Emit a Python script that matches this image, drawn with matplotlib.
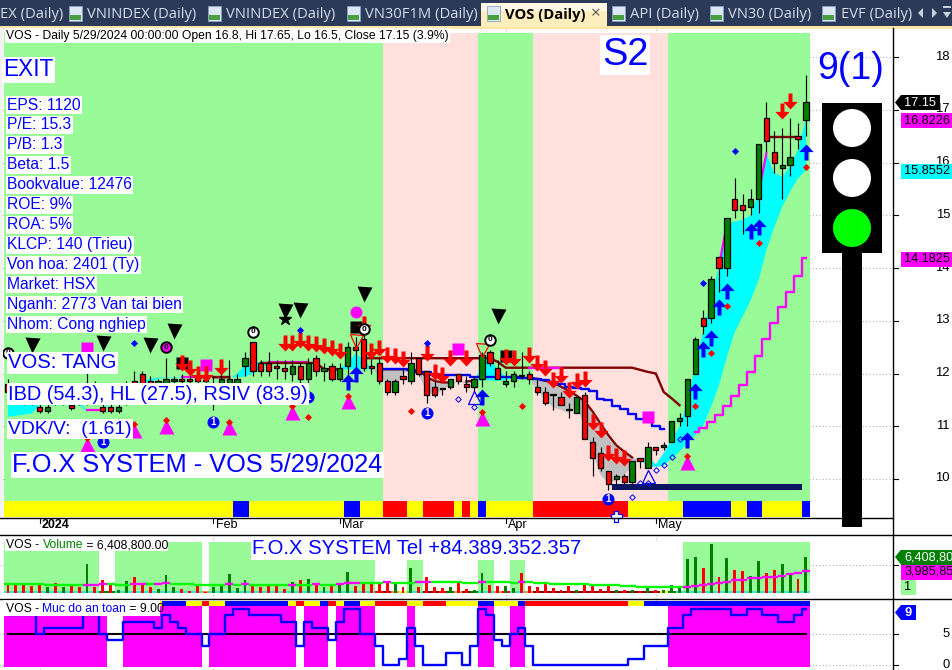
import matplotlib
matplotlib.use("Agg")
import matplotlib.pyplot as plt
import numpy as np
from matplotlib.patches import Rectangle, Circle, Polygon
from matplotlib.path import Path

plt.rcParams['font.family'] = ['Liberation Sans', 'DejaVu Sans']

# daily candles, one row per bar: open, high, low, close
ohlc = [
    (11.8, 11.9, 11.6, 11.65), (11.65, 11.75, 11.45, 11.5), (11.5, 11.6, 11.4, 11.45), (11.55, 11.65, 11.4, 11.45),
    (11.37, 11.5, 11.25, 11.29), (11.29, 11.5, 11.25, 11.37), (11.5, 11.6, 11.4, 11.45), (11.45, 11.6, 11.4, 11.55),
    (11.4, 11.6, 11.3, 11.35), (11.5, 11.6, 11.4, 11.45), (11.45, 12.05, 11.4, 11.75), (11.75, 11.85, 11.5, 11.55),
    (11.37, 11.55, 11.25, 11.29), (11.37, 11.5, 11.25, 11.29), (11.29, 11.5, 11.25, 11.37), (11.5, 11.85, 11.4, 11.7),
    (11.85, 12.05, 11.6, 11.7), (12.0, 12.05, 11.7, 11.8), (11.85, 11.95, 11.7, 11.75), (11.75, 11.9, 11.7, 11.85),
    (11.8, 12.3, 11.7, 11.9), (11.85, 11.95, 11.75, 11.9), (11.9, 12.0, 11.8, 11.85), (11.9, 12.0, 11.8, 11.85),
    (11.9, 11.95, 11.8, 11.85), (11.85, 11.95, 11.8, 11.85), (11.7, 11.95, 11.3, 11.8), (11.8, 12.0, 11.7, 11.9),
    (11.75, 12.25, 11.6, 11.9), (11.8, 12.0, 11.7, 11.9), (12.15, 12.4, 11.95, 12.3), (12.6, 12.6, 11.95, 12.05),
    (12.2, 12.25, 11.95, 12.05), (12.2, 12.4, 11.95, 12.05), (12.15, 12.25, 11.9, 12.1), (12.1, 12.25, 11.9, 12.05),
    (12.0, 12.25, 11.85, 12.15), (12.15, 12.2, 11.8, 11.9), (11.9, 12.3, 11.8, 12.2), (12.3, 12.35, 11.95, 12.05),
    (12.05, 12.2, 11.85, 12.1), (12.15, 12.2, 11.85, 11.9), (11.9, 12.2, 11.85, 12.1), (12.15, 12.6, 11.95, 12.5),
    (12.5, 12.7, 12.1, 12.45), (12.65, 12.8, 12.05, 12.1), (12.15, 12.3, 12.0, 12.1), (12.2, 12.3, 11.8, 11.85),
    (11.85, 11.9, 11.6, 11.65), (11.65, 11.9, 11.6, 11.85), (11.95, 12.1, 11.8, 11.9), (11.85, 12.4, 11.8, 12.2),
    (12.3, 12.3, 11.95, 12.0), (12.05, 12.05, 11.45, 11.6), (11.75, 11.85, 11.55, 11.6), (11.7, 11.7, 11.6, 11.7),
    (11.75, 11.9, 11.7, 11.9), (12.0, 12.0, 11.8, 11.85), (11.8, 11.95, 11.65, 11.75), (11.75, 11.95, 11.65, 11.9),
    (11.9, 12.4, 11.75, 12.35), (12.4, 12.45, 12.15, 12.2), (12.1, 12.25, 11.9, 11.9), (11.8, 12.05, 11.75, 11.85),
    (11.85, 12.05, 11.75, 12.0), (11.95, 12.4, 11.9, 11.95), (12.0, 12.05, 11.8, 11.9), (11.75, 11.9, 11.6, 11.65),
    (11.65, 11.75, 11.4, 11.45), (11.6, 11.6, 11.3, 11.6), (11.55, 11.65, 11.4, 11.4), (11.3, 11.45, 11.15, 11.3),
    (11.25, 11.55, 11.25, 11.55), (11.6, 11.65, 10.75, 10.75), (10.7, 10.8, 10.05, 10.4), (10.5, 10.6, 10.15, 10.2),
    (10.15, 10.15, 9.8, 9.9), (10.0, 10.1, 9.9, 10.05), (10.05, 10.1, 9.9, 9.95), (9.95, 10.35, 9.9, 10.35),
    (10.4, 10.4, 10.2, 10.35), (10.2, 10.7, 10.2, 10.6), (10.6, 10.6, 10.45, 10.55), (10.6, 10.7, 10.55, 10.65),
    (10.7, 11.1, 10.7, 11.1), (11.1, 11.25, 11.0, 11.15), (11.2, 11.9, 11.0, 11.9), (12.0, 12.7, 12.0, 12.65),
    (13.05, 13.2, 12.75, 12.9), (13.05, 13.85, 12.95, 13.8), (14.2, 14.2, 13.55, 14.0), (14.0, 14.95, 13.85, 14.95),
    (15.3, 15.7, 14.95, 15.1), (15.2, 15.4, 14.65, 15.1), (15.15, 15.5, 15.0, 15.3), (15.3, 16.35, 15.05, 16.35),
    (16.85, 17.15, 16.2, 16.4), (16.2, 16.6, 15.8, 16.0), (15.9, 16.65, 15.3, 15.95), (15.95, 16.85, 15.75, 16.1),
    (16.5, 16.75, 16.25, 16.45), (16.8, 17.65, 16.5, 17.15),
]

# fast and slow band of the cloud
fast_line = [11.5, 11.5, 11.5, 11.5, 11.45, 11.45, 11.45, 11.45, 11.45, 11.45, 11.31, 11.31, 11.31, 11.5, 11.6, 11.7,
             11.8, 11.85, 11.9, 11.92, 11.93, 11.93, 11.93, 11.93, 11.93, 11.93, 11.9, 11.9, 11.9, 12.0, 12.16, 12.2,
             12.22, 12.22, 12.22, 12.22, 12.22, 12.22, 12.22, 12.1, 12.05, 12.05, 12.1, 12.2, 12.38, 12.26, 12.1, 11.97,
             11.81, 11.72, 12.0, 12.07, 11.97, 11.66, 11.59, 11.69, 11.78, 11.85, 11.8, 11.83, 12.19, 12.29, 12.07,
             11.94, 11.94, 11.97, 11.89, 11.69, 11.5, 11.36, 11.31, 11.25, 11.37, 10.99, 10.49, 10.08, 9.92, 9.98,
             10.04, 10.3, 10.36, 10.42, 10.28, 10.49, 10.74, 10.99, 11.5, 12.1, 12.82, 13.39, 14.03, 14.85, 14.88,
             14.91, 15.0, 15.42, 16.17, 15.8, 15.73, 15.92, 16.24, 16.8226]
slow_line = [11.18, 11.2, 11.22, 11.24, 11.4, 11.4, 11.4, 11.4, 11.4, 11.4, 11.29, 11.29, 11.29, 11.45, 11.55, 11.65,
             11.75, 11.8, 11.85, 11.9, 11.92, 11.92, 11.92, 11.92, 11.92, 11.92, 11.93, 11.93, 11.93, 11.93, 11.94,
             12.0, 12.1, 12.2, 12.2, 12.2, 12.2, 12.2, 12.2, 12.08, 12.08, 12.08, 12.08, 12.08, 12.08, 12.08, 12.08,
             12.08, 12.08, 12.08, 12.08, 12.07, 12.07, 11.93, 11.86, 11.83, 11.83, 11.84, 11.85, 11.86, 11.87, 11.87,
             11.86, 11.88, 11.91, 11.93, 11.92, 11.9, 11.86, 11.83, 11.75, 11.67, 11.58, 11.47, 11.28, 11.05, 10.83,
             10.64, 10.52, 10.41, 10.36, 10.25, 10.23, 10.25, 10.39, 10.52, 10.68, 10.83, 11.02, 11.37, 11.78, 12.32,
             12.79, 13.08, 13.39, 13.77, 14.34, 14.78, 15.16, 15.45, 15.7, 15.8552]

# bars where the fast line is drawn in magenta, elsewhere it is only the cloud's edge
fast_runs = [(0, 1), (10, 12), (22, 25), (33, 38), (90, 91), (95, 96)]

# dark red stop line, (first bar, values)
stop_runs = [
    (26, [11.93, 11.93, 11.93]),
    (32, [12.2] * 8 + [12.08] * 3),
    (45, [12.29] * 17 + [12.22] + [12.11] * 16 + [12.11, 12.07, 12.03, 12.0, 11.65, 11.53, 11.4]),
    (96, [16.48] * 5),
]
stop_magenta_bars = [66, 67, 68, 69, 70]
stop_magenta_value = 12.11

blue_first_bar = 47
blue_line = [12.09, 12.09, 12.09, 12.09, 12.07, 12.02, 12.02, 11.97, 11.97, 11.97, 11.97, 11.97, 11.94, 11.94, 11.94,
             11.94, 11.94, 11.94, 11.91, 11.91, 11.89, 11.88, 11.84, 11.81, 11.75, 11.72, 11.7, 11.67, 11.51, 11.5,
             11.38, 11.32, 11.24, 11.14, 11.13, 11.0, 10.94]

magenta_first_bar = 87
magenta_line = [10.9, 10.97, 11.09, 11.21, 11.38, 11.57, 11.78, 12.03, 12.33, 12.65, 12.96, 13.27, 13.55, 13.85, 14.1825]

# regime per bar: G green, P pink
regime = "G" * 48 + "P" * 12 + "G" * 7 + "P" * 17 + "G" * 18
price_strip = ("Y" * 29 + "B" * 2 + "Y" * 12 + "B" * 2 + "Y" * 3 + "R" * 3 + "Y" * 2 + "R" * 4 + "YRYB" + "Y" * 6 + "R" * 12
               + "Y" * 7 + "B" * 6 + "YY" + "BB" + "Y" * 5 + "B")

# markers: bar index, price
red_arrow_bars = [22, 23, 24, 25, 27, 35, 36, 37, 38, 39, 40, 41, 42, 45, 46, 47, 48, 49, 50, 53, 54, 55, 56, 58, 63, 64,
                  66, 67, 68, 69, 70, 71, 72, 73, 74, 75, 76, 77, 78, 98, 99]
red_arrow_prices = [12.19, 12.11, 12.0, 12.0, 12.13, 12.57, 12.57, 12.63, 12.57, 12.56, 12.52, 12.48, 12.43, 12.93, 12.43,
                    12.48, 12.35, 12.33, 12.27, 12.38, 12.03, 11.97, 12.29, 12.29, 12.32, 12.29, 12.35, 12.19, 12.10,
                    11.88, 11.97, 11.69, 11.85, 11.89, 11.09, 10.93, 10.49, 10.44, 10.39, 16.98, 17.165]
blue_arrow_bars = [43, 44, 60, 86, 87, 88, 89, 90, 91, 94, 95, 101]
blue_arrow_prices = [11.84, 12.0, 11.55, 10.74, 11.67, 12.46, 12.67, 13.27, 13.57, 14.71, 14.77, 16.19]
red_dot_bars = [38, 51, 65, 87, 89, 91, 95, 101]
red_dot_prices = [11.18, 11.28, 11.38, 11.38, 12.38, 13.28, 14.48, 15.92]
blue_dot_bars = [16, 37, 53, 88, 92]
blue_dot_prices = [12.58, 12.82, 12.58, 13.72, 16.22]
open_diamond_bars = [57, 59, 79, 80, 81, 82, 83, 84, 85]
open_diamond_prices = [11.52, 11.36, 9.66, 9.92, 9.92, 10.17, 10.27, 10.42, 10.76]
pink_tri_bars = [10, 16, 20, 28, 36, 43, 60, 86]
pink_tri_prices = [10.66, 10.93, 11.0, 10.98, 11.27, 11.47, 11.16, 10.32]
open_tri_bars = [59, 81]
open_tri_prices = [11.56, 10.06]
open_down_bars = [44, 60]
open_down_prices = [12.62, 12.45]
black_tri_bars = [3, 12, 18, 21, 35, 37, 45, 62]
black_tri_prices = [12.54, 12.58, 12.54, 12.81, 13.18, 13.2, 13.51, 13.09]
zero_bars = [0, 31, 45, 61]
zero_prices = [12.39, 12.79, 12.84, 12.64]
pink_zero_bars = [20]
pink_zero_prices = [12.5]
one_bars = [12, 26, 38, 53, 76]
one_prices = [10.71, 11.09, 11.56, 11.26, 9.62]
black_sq_bars = [22, 44, 63]
black_sq_prices = [12.2, 12.88, 12.33]
pink_sq_bars = [10, 25, 57, 81]
pink_sq_prices = [12.48, 12.16, 12.46, 11.18]
support_bars = (77, 100)
support_price = 9.85

# volume in millions of shares
volume = [1.76, 1.47, 1.47, 1.3, 1.47, 1.18, 1.76, 1.18, 1.47, 1.06, 5.18, 1.06, 2.35, 1.47, 0.6, 2.1, 2.94, 1.47, 1.18,
          0.7, 3.2, 1.06, 0.7, 0.47, 1.47, 0.3, 1.06, 1.47, 3.4, 0.88, 2.35, 1.6, 1.18, 1.6, 1.65, 0.7, 1.94, 2.35, 2.47,
          1.65, 1.06, 1.6, 1.47, 3.7, 1.3, 1.88, 1.88, 1.76, 1.76, 1.88, 1.18, 4.4, 1.18, 2.94, 1.18, 0.88, 1.18, 1.76,
          0.7, 0.6, 3.5, 1.47, 1.3, 1.3, 0.88, 3.6, 1.3, 1.18, 1.65, 0.88, 0.6, 1.3, 0.6, 1.47, 1.65, 0.7, 1.65, 0.6,
          0.6, 0.6, 0.4, 0.88, 0.6, 0.6, 1.47, 1.0, 6.06, 6.4, 4.47, 8.7, 2.88, 6.24, 4.1, 3.94, 3.06, 5.7, 3.6, 4.1,
          5.18, 3.24, 2.53, 6.4088]
volume_ma = [1.7, 1.7, 1.7, 1.7, 1.7, 1.5, 1.5, 1.45, 1.45, 1.45, 1.5, 1.55, 1.6, 1.6, 1.55, 1.55, 1.6, 1.65, 1.65, 1.7,
             1.75, 1.7, 1.6, 1.6, 1.55, 1.55, 1.5, 1.5, 1.6, 1.55, 1.6, 1.55, 1.55, 1.55, 1.55, 1.5, 1.55, 1.55, 1.55,
             1.6, 1.55, 1.55, 1.65, 1.8, 1.9, 1.9, 1.9, 1.9, 1.95, 1.9, 1.9, 1.9, 1.95, 2.05, 2.05, 2.05, 1.95, 1.95, 1.9,
             1.9, 1.95, 1.95, 1.95, 1.95, 1.9, 1.95, 1.95, 1.9, 1.9, 1.7, 1.7, 1.7, 1.65, 1.65, 1.5, 1.5, 1.5, 1.5, 1.3,
             1.3, 1.2, 1.2, 1.15, 1.1, 1.05, 1.05, 1.2, 1.3, 1.5, 1.6, 1.8, 2.0, 2.3, 2.35, 2.65, 2.7, 2.85, 2.95, 3.1,
             3.4, 3.5, 3.985855]
# T turquoise, O orange, R red, D dark red, Y yellow, G green
volume_strip = ("T" * 12 + "GG" + "T" * 11 + "O" + "T" * 21 + "RDOY" + "TT" + "DDRGODG" + "TT" + "OR" + "TT" + "O"
                + "D" * 16 + "Y" + "G" + "T" * 16)
volume_green = "G" * 12 + "." * 2 + "G" * 11 + "." + "G" * 21 + "." * 4 + "G" * 2 + "." * 7 + "G" * 2 + "." * 2 + "G" * 2 + "." * 20 + "G" * 16

# safety score 0-9
safety = [8, 8, 8, 8, 5, 6, 6, 6, 6, 6, 8, 8, 5, 4, 4, 7, 7, 7, 7, 6, 8, 7, 6, 5, 5, 3, 5, 5, 8, 9, 9, 8, 8, 8, 8, 7, 7, 3, 7,
          6, 6, 4, 7, 9, 9, 5, 5, 3, 0, 0, 1, 6, 3, 0, 0, 0, 2, 2, 0, 3, 9, 8, 4, 3, 5, 6, 3, 0, 0, 0, 0, 0, 0, 0, 0, 0, 0,
          0, 0, 1, 1, 3, 3, 3, 6, 6, 8, 9, 9, 9, 9, 9, 8, 8, 9, 9, 8, 8, 7, 7, 8, 9]
safety_strip = ("Y" * 20 + "BBB" + "YY" + "R" + "YY" + "B" * 8 + "Y" + "R" + "YY" + "B" + "R" + "Y" + "BB" + "YY" + "RRRR" + "YY"
                + "RRR" + "YYYY" + "BB" + "YYY" + "B" + "R" * 13 + "YY" + "B" * 21)

month_ticks = [4, 26, 42, 63, 82]
month_labels = ["2024", "Feb", "Mar", "Apr", "May"]

text_lines = ["EPS: 1120", "P/E: 15.3", "P/B: 1.3", "Beta: 1.5", "Bookvalue: 12476", "ROE: 9%", "ROA: 5%",
              "KLCP: 140 (Trieu)", "Von hoa: 2401 (Ty)", "Market: HSX", "Nganh: 2773 Van tai bien", "Nhom: Cong nghiep"]
tab_names = ["VNINDEX (Daily)", "VNINDEX (Daily)", "VN30F1M (Daily)"]
right_tabs = ["API (Daily)", "VN30 (Daily)", "EVF (Daily)"]

W, H = 953, 670
GREEN, PINK = "#98fb98", "#ffe0dc"
STATE = {"Y": "#ffff00", "B": "#0000ff", "R": "#ff0000", "T": "#40e0d0", "O": "#ff8c40", "D": "#8b0000", "G": "#008000"}

bars = np.arange(len(ohlc))
opens, highs, lows, closes = np.array(ohlc).T
fast_line = np.array(fast_line)
slow_line = np.array(slow_line)
safety = np.array(safety)
up_bar = closes > opens


def pane(top, bottom):
    # axes given in screen pixels, x shared by every pane: bar i sits at 8 + 7.9 i
    ax = fig.add_axes([0, 1 - bottom / H, 893 / W, (bottom - top) / H])
    ax.set_xlim(-8 / 7.9, 885 / 7.9)
    ax.set_facecolor("white")
    for spine in ax.spines.values():
        spine.set_visible(False)
    ax.set_xticks([])
    ax.set_yticks([])
    return ax


def grid(ax, ys):
    ax.hlines(ys, -1.1, 113, colors="#b4b4b4", linestyles=(0, (1, 2)), lw=0.8, zorder=1)
    ax.vlines(month_ticks, *ax.get_ylim(), colors="#b4b4b4", linestyles=(0, (1, 2)), lw=0.8, zorder=1)


def arrow_path(direction):
    pts = [(-0.25, 1), (0.25, 1), (0.25, -0.05), (0.9, -0.05), (0, -1), (-0.9, -0.05), (-0.25, -0.05), (-0.25, 1)]
    return Path([(x, direction * y) for x, y in pts], closed=True)


def px(n):
    return n * 0.72


def state_bars(ax, states, bottom, top):
    ax.bar(bars, top - bottom, bottom=bottom, width=1.0, color=[STATE[s] for s in states], lw=0, zorder=2)


fig = plt.figure(figsize=(W / 100, H / 100), dpi=100, facecolor="white")

# ---- price pane
ax = pane(28, 517)
ax.set_ylim(9.2796, 18.55)
grid(ax, np.arange(10, 19))
strip_top, pane_top = 9.583, 18.455
ax.bar(bars, pane_top - strip_top, bottom=strip_top, width=1.0, lw=0, zorder=2,
       color=[GREEN if r == "G" else PINK for r in regime])
state_bars(ax, price_strip, 9.2796, strip_top)

ax.fill_between(bars, fast_line, slow_line, where=fast_line >= slow_line, color="#00ffff", lw=0, zorder=3, interpolate=True)
ax.fill_between(bars, fast_line, slow_line, where=fast_line <= slow_line, color="#c0c0c0", lw=0, zorder=3, interpolate=True)

# slow line shows brown when it sits above the fast one
for a, b in fast_runs:
    ax.plot(bars[a:b + 1], fast_line[a:b + 1], color="#ff00ff", lw=1.6, zorder=4)
ax.plot(bars, np.where(slow_line > fast_line, slow_line, np.nan), color="#800000", lw=1.6, zorder=4)
for first, values in stop_runs:
    ax.plot(first + np.arange(len(values)), values, color="#800000", lw=1.7, zorder=4)
ax.plot(stop_magenta_bars, [stop_magenta_value] * len(stop_magenta_bars), color="#ff00ff", lw=1.7, zorder=4)
ax.plot(blue_first_bar + np.arange(len(blue_line)), blue_line, color="#0000ff", lw=1.7, drawstyle="steps-mid", zorder=4)
ax.plot(magenta_first_bar + np.arange(len(magenta_line)), magenta_line, color="#ff00ff", lw=1.7,
        drawstyle="steps-mid", zorder=4)
ax.hlines(support_price, support_bars[0] - 0.5, support_bars[1] + 0.5, color="#0a1560", lw=px(6), zorder=4)

# candles
ax.vlines(bars, lows, highs, color="black", lw=0.85, zorder=5)
body = np.maximum(np.abs(closes - opens), 0.02)
ax.bar(bars, body, bottom=np.minimum(opens, closes), width=0.68, color=np.where(up_bar, "#008000", "#ff0000"),
       edgecolor="black", lw=0.9, zorder=6)

mk = dict(ls="none", zorder=7)
ax.plot(black_tri_bars, black_tri_prices, marker="v", ms=px(15), color="black", mec="none", **mk)
ax.plot(pink_sq_bars, pink_sq_prices, marker="s", ms=px(12), color="#ff00ff", mec="none", **mk)
ax.plot(black_sq_bars, black_sq_prices, marker="s", ms=px(12), color="black", mec="none", **mk)
ax.plot([44], [13.17], marker="o", ms=px(12), color="#ff00ff", mec="none", **mk)
ax.plot([35], [13.03], marker="*", ms=px(13), color="black", **mk)
ax.plot(red_arrow_bars, red_arrow_prices, marker=arrow_path(1), ms=px(16), mfc="#ff0000", mec="none", **mk)
ax.plot(blue_arrow_bars, blue_arrow_prices, marker=arrow_path(-1), ms=px(16), mfc="#0000ff", mec="none", **mk)
ax.plot(pink_tri_bars, pink_tri_prices, marker="^", ms=px(15), color="#ff00ff", mec="none", **mk)
ax.plot(pink_tri_bars, np.array(pink_tri_prices) + 0.11, marker="D", ms=px(5), color="#ff0000", mec="none", **mk)
ax.plot(red_dot_bars, red_dot_prices, marker="D", ms=px(5), color="#ff0000", mec="none", **mk)
ax.plot(blue_dot_bars, blue_dot_prices, marker="D", ms=px(5), color="#0000ff", mec="none", **mk)
ax.plot(open_diamond_bars, open_diamond_prices, marker="D", ms=px(4), mfc="none", mec="#0000ff", mew=0.7, **mk)
ax.plot(open_tri_bars, open_tri_prices, marker="^", ms=px(13), mfc="none", mec="#0000ff", mew=0.9, **mk)
ax.plot(open_down_bars, open_down_prices, marker="v", ms=px(13), mfc="none", mec="#ff0000", mew=0.9, **mk)
ax.plot([77], [9.29], marker="P", ms=px(11), mfc="white", mec="#0000ff", mew=0.9, ls="none", zorder=7, clip_on=False)
for b, p in zip(zero_bars, zero_prices):
    ax.plot(b, p, marker="o", ms=px(10.5), mfc="white", mec="black", mew=1.4, zorder=8)
    ax.text(b, p, "0", fontsize=6, fontweight="bold", ha="center", va="center", zorder=9)
for b, p in zip(pink_zero_bars, pink_zero_prices):
    ax.plot(b, p, marker="o", ms=px(10.5), mfc="#ff00ff", mec="black", mew=1.4, zorder=8)
    ax.text(b, p, "0", fontsize=6, fontweight="bold", ha="center", va="center", zorder=9)
for b, p in zip(one_bars, one_prices):
    ax.plot(b, p, marker="o", ms=px(12), color="#0000ff", mec="none", zorder=8)
    ax.text(b, p, "1", color="white", fontsize=7, fontweight="bold", ha="center", va="center", zorder=9)

# ---- volume pane
vol_ax = pane(535, 599)
vol_ax.set_ylim(-1.007, 10.3)
grid(vol_ax, [5])
vol_ax.bar(bars, 9.06, width=1.0, color=[GREEN if g == "G" else "white" for g in volume_green], lw=0, zorder=2)
state_bars(vol_ax, volume_strip, 0, 0.45)
vol_ax.bar(bars, volume, width=0.36, color=np.where(up_bar, "#008000", "#ff0000"), lw=0, zorder=3)
ma_rising = np.r_[False, np.diff(volume_ma) > 0]
vol_ax.hlines(volume_ma, bars - 0.5, bars + 0.5, colors=np.where(ma_rising, "#ff00ff", "#00ff00"), lw=1.7, zorder=4)

# ---- safety pane
safe_ax = pane(599, 670)
safe_ax.set_ylim(-0.806, 10.65)
grid(safe_ax, [0, 5])
safe_ax.bar(bars, 9.78, bottom=-0.27, width=1.0, color=np.where(safety >= 5, "#ff00ff", "white"), lw=0, zorder=2)
state_bars(safe_ax, safety_strip, 9.5, 10.37)
safe_ax.plot(bars, [5] * len(bars), color="black", lw=1.5, zorder=3)
safe_ax.plot(bars, safety, color="#0000ff", lw=1.7, drawstyle="steps-mid", zorder=4)

# ---- overlay in screen pixels: tabs, labels, traffic light, price tags
ov = fig.add_axes([0, 0, 1, 1], facecolor="none")
ov.set_xlim(0, W)
ov.set_ylim(H, 0)
ov.axis("off")

ov.add_patch(Rectangle((0, 0), W, 26, color="#2c3a5a", lw=0))
ov.add_patch(Rectangle((0, 26), W, 2.5, color="#fde6a6", lw=0))
ov.add_patch(Rectangle((0, 28), 3, 489, color="#f2f2f0", lw=0))
ov.add_patch(Rectangle((481, 3), 126, 24, color="#ffeebb", lw=0))
ov.add_patch(Rectangle((481, 3), 126, 8, color="#fff8e4", lw=0))


def tab_icon(x):
    ov.add_patch(Rectangle((x, 6), 13, 15, fc="#dce8f8", ec="#8aa0c0", lw=0.6))
    ov.add_patch(Rectangle((x + 1, 15), 11, 5, color="#4aa040", lw=0))


tab_font = ["Open Sans", "DejaVu Sans"]
ov.text(0, 14, "EX (Daily)", color="#d5dcea", fontsize=px(14.7), family=tab_font, va="center")
for name, ix, tx in zip(tab_names, [69, 208, 347], [87, 226, 365]):
    tab_icon(ix)
    ov.text(tx, 14, name, color="#d5dcea", fontsize=px(14.7), family=tab_font, va="center")
tab_icon(487)
ov.text(505, 14.5, "VOS (Daily)", color="black", fontsize=px(14.7), family=tab_font, fontweight="bold", va="center")
ov.text(596, 14, "×", color="#555555", fontsize=px(17), family=tab_font, ha="center", va="center")
for name, ix, tx in zip(right_tabs, [612, 710, 822], [630, 728, 841]):
    tab_icon(ix)
    ov.text(tx, 14, name, color="#d5dcea", fontsize=px(14.7), family=tab_font, va="center")
for cx, pts in [(921, [(-3, 0), (2, -5), (2, 5)]), (934, [(3, 0), (-2, -5), (-2, 5)]), (947, [(-4, -1), (4, -1), (0, 5)])]:
    ov.add_patch(Polygon([(cx + a, 13 + b) for a, b in pts], color="#c8d0de", lw=0))
ov.add_patch(Rectangle((943, 6), 8, 2, color="#c8d0de", lw=0))


def label(x, y, s, size, color="#0000ff", pad=1.0):
    ov.text(x, y, s, color=color, fontsize=px(size), va="center", ha="left", zorder=20,
            bbox=dict(fc="white", ec="none", pad=pad))


def caption(x, y, pieces, size):
    # one line in several colours, each piece starts where the last one stopped
    renderer = fig.canvas.get_renderer()
    for s, c in pieces:
        t = ov.text(x, y, s, color=c, fontsize=px(size), va="center", zorder=20)
        x = ov.transData.inverted().transform(t.get_window_extent(renderer).get_points())[1][0]


label(6, 35.5, "VOS - Daily 5/29/2024 00:00:00 Open 16.8, Hi 17.65, Lo 16.5, Close 17.15 (3.9%)", 12.1, color="black", pad=0.8)
label(3, 70, "EXIT", 22.6)
for n, line in enumerate(text_lines):
    label(7, 105 + n * 19.95, line, 15.6)
label(8, 363, "VOS: TANG", 20.3)
label(8, 394, "IBD (54.3), HL (27.5), RSIV (83.9)", 20)
label(8, 429, "VDK/V:  (1.61)", 19.3)
label(12, 465, "F.O.X SYSTEM - VOS 5/29/2024", 25.4)
label(602, 55, "S2", 38)
label(252, 549, "F.O.X SYSTEM Tel +84.389.352.357", 20.3)
ov.text(817, 69, "9(1)", color="#0000ff", fontsize=px(37.5), va="center", zorder=20)

# panel captions, written in coloured pieces
ov.add_patch(Rectangle((5, 538), 163, 13, color="white", lw=0, zorder=19))
ov.add_patch(Rectangle((4, 600), 156, 16, color="white", lw=0, zorder=19))
caption(6, 545, [("VOS - ", "black"), ("Volume", "#008000"), (" = 6,408,800.00", "black")], 12.1)
caption(6, 609, [("VOS - ", "black"), ("Muc do an toan", "#0000ff"), (" = 9.00", "black")], 12.1)

# traffic light
ov.add_patch(Rectangle((822, 103), 60, 150, color="black", lw=0, zorder=10))
ov.add_patch(Rectangle((842, 253), 20, 274, color="black", lw=0, zorder=10))
for cy, c in [(128, "white"), (178, "white"), (228, "#00ff00")]:
    ov.add_patch(Circle((852, cy), 19, color=c, lw=0, zorder=11))

# frame and scales
ov.plot([893, 893], [28, H], color="black", lw=1.0, zorder=12)
ov.plot([0, 893], [517.5, 517.5], color="black", lw=1.0, zorder=12)
ov.plot([0, W], [535, 535], color="black", lw=1.0, zorder=12)
ov.plot([0, W], [599, 599], color="black", lw=1.0, zorder=12)
ov.plot([893, 898], [565, 565], color="black", lw=0.8, zorder=12)
for value, y in zip(range(10, 19), ax.transData.transform(np.c_[np.zeros(9), np.arange(10, 19)])[:, 1]):
    py = H - y
    ov.plot([893, 898], [py, py], color="black", lw=0.8, zorder=12)
    ov.text(950, py - 0.5, str(value), fontsize=px(13), ha="right", va="center", zorder=12)
for value in [0, 5]:
    py = H - safe_ax.transData.transform((0, value))[1]
    ov.plot([893, 898], [py, py], color="black", lw=0.8, zorder=12)
    ov.text(950, py - 0.5, str(value), fontsize=px(13), ha="right", va="center", zorder=12)

for b, s, weight in zip(month_ticks, month_labels, ["bold", "normal", "normal", "normal", "normal"]):
    tick_x = 8 + 7.9 * b
    ov.plot([tick_x, tick_x], [518, 523], color="black", lw=0.8, zorder=12)
    ov.text(tick_x + 2.5, 525, s, fontsize=px(12.5), fontweight=weight, va="center", zorder=12)


def price_tag(y, s, fc, tc, x0=901, arrow=False, weight="normal", x1=W):
    ov.add_patch(Rectangle((x0, y - 7.5), x1 - x0, 15, color=fc, lw=0, zorder=15))
    if arrow:
        ov.add_patch(Polygon([(x0, y - 7.5), (x0, y + 7.5), (x0 - 6, y)], color=fc, lw=0, zorder=15))
    ov.text(x0 + 3.5, y, s, color=tc, fontsize=px(12.8), fontweight=weight, va="center", ha="left", zorder=16, clip_on=True)


price_tag(102.5, "17.15", "black", "white", arrow=True, x1=940)
price_tag(120.5, "16.8226", "#ff00ff", "black")
price_tag(171.5, "15.8552", "#00ffff", "black")
price_tag(259.5, "14.1825", "#ff00ff", "black")
price_tag(557, "6,408,800", "#008000", "white", arrow=True)
price_tag(572, "3,985,855", "#ff00ff", "black")
price_tag(587.5, "1", GREEN, "black", x1=916)
price_tag(612.5, "9", "#0000ff", "white", arrow=True, weight="bold", x1=916)

fig.savefig("out.png", dpi=100)
